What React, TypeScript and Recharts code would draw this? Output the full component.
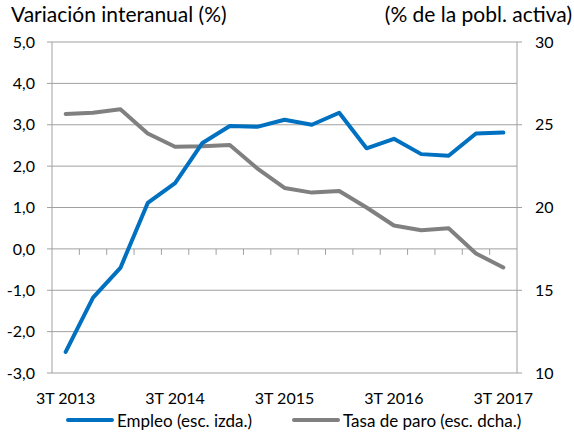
import React from 'react';
import { LineChart, Line, XAxis, YAxis, CartesianGrid, Legend } from 'recharts';

const quarters = ['3T 2013', '4T 2013', '1T 2014', '2T 2014', '3T 2014', '4T 2014', '1T 2015', '2T 2015', '3T 2015', '4T 2015', '1T 2016', '2T 2016', '3T 2016', '4T 2016', '1T 2017', '2T 2017', '3T 2017'];
const empleo = [-2.49, -1.18, -0.46, 1.11, 1.59, 2.56, 2.97, 2.95, 3.12, 3.0, 3.29, 2.43, 2.66, 2.29, 2.25, 2.79, 2.81];
const paro = [25.65, 25.73, 25.93, 24.47, 23.67, 23.7, 23.78, 22.37, 21.18, 20.9, 21.0, 20.0, 18.91, 18.63, 18.75, 17.22, 16.38];
const leftTicks = [-3, -2, -1, 0, 1, 2, 3, 4, 5];
const rightTicks = [10, 15, 20, 25, 30];
const shownLabels = ['3T 2013', '3T 2014', '3T 2015', '3T 2016', '3T 2017'];

const seriesNames = { empleo: 'Empleo (esc. izda.)', paro: 'Tasa de paro (esc. dcha.)' };
const titles = { left: 'Variación interanual (%)', right: '(% de la pobl. activa)' };
const BLUE = '#0070C0';
const GRAY = '#808080';
const GRID = '#a0a0a0';
const FONT = 'Lato, "Liberation Sans", sans-serif';

const data = quarters.map((q, i) => ({ q, empleo: empleo[i], paro: paro[i] }));

const W = 574;
const H = 432;
const LEFT_W = 52;
const RIGHT_W = 57;
const TOP = 42;
const XAXIS_H = 35;
const LEGEND_H = 24;
const PLOT_W = W - LEFT_W - RIGHT_W;
const PLOT_H = H - TOP - XAXIS_H - LEGEND_H;
const BAND = PLOT_W / quarters.length;
const L_MIN = -3;
const L_MAX = 5;

const fmtLeft = (v: number) => v.toFixed(1).replace('.', ',');

const XTick = (props: any) => {
  const { x, y, payload, index } = props;
  const zeroY = y - ((0 - L_MIN) / (L_MAX - L_MIN)) * PLOT_H;
  const bx = x - BAND / 2;
  return (
    <g>
      {index > 0 && <line x1={bx} x2={bx} y1={zeroY} y2={zeroY + 6} stroke={GRID} strokeWidth={1} />}
      {shownLabels.includes(payload.value) && (
        <text x={x} y={y + 31} textAnchor="middle" fill="#000" fontSize={16} fontFamily={FONT}>
          {payload.value}
        </text>
      )}
    </g>
  );
};

const LegendContent = () => (
  <div style={{ display: 'flex', alignItems: 'center', height: LEGEND_H, paddingLeft: 66, fontFamily: FONT, fontSize: 17, color: '#000', whiteSpace: 'nowrap' }}>
    <div style={{ display: 'flex', alignItems: 'center', width: 226 }}>
      <div style={{ width: 48, height: 4, background: BLUE, borderRadius: 2, marginRight: 3 }} />
      <span>{seriesNames.empleo}</span>
    </div>
    <div style={{ display: 'flex', alignItems: 'center' }}>
      <div style={{ width: 48, height: 4, background: GRAY, borderRadius: 2, marginRight: 3 }} />
      <span>{seriesNames.paro}</span>
    </div>
  </div>
);

export default function App() {
  return (
    <div style={{ position: 'absolute', left: 0, top: 0, width: W, height: H, background: '#fff' }}>
      <div style={{ position: 'absolute', left: 11, top: 1, fontFamily: FONT, fontSize: 21, color: '#000', whiteSpace: 'nowrap' }}>
        {titles.left}
      </div>
      <div style={{ position: 'absolute', right: 2, top: 1, fontFamily: FONT, fontSize: 21, color: '#000', whiteSpace: 'nowrap' }}>
        {titles.right}
      </div>
      <LineChart width={W} height={H} data={data} margin={{ top: TOP, right: 0, bottom: 0, left: 0 }}>
        <CartesianGrid yAxisId="left" vertical={false} horizontal={true} stroke={GRID} strokeWidth={1} />
        <XAxis
          dataKey="q"
          interval={0}
          height={XAXIS_H}
          padding={{ left: BAND / 2, right: BAND / 2 }}
          axisLine={false}
          tickLine={false}
          tickSize={0}
          tickMargin={0}
          tick={<XTick />}
        />
        <YAxis
          yAxisId="left"
          orientation="left"
          width={LEFT_W}
          domain={[L_MIN, L_MAX]}
          ticks={leftTicks}
          interval={0}
          tickFormatter={fmtLeft}
          axisLine={{ stroke: GRID }}
          tickLine={{ stroke: GRID }}
          tickSize={5}
          tickMargin={12}
          tick={{ fill: '#000', fontSize: 16, fontFamily: FONT }}
        />
        <YAxis
          yAxisId="right"
          orientation="right"
          width={RIGHT_W}
          domain={[10, 30]}
          ticks={rightTicks}
          interval={0}
          axisLine={{ stroke: GRID }}
          tickLine={{ stroke: GRID }}
          tickSize={5}
          tickMargin={13}
          tick={{ fill: '#000', fontSize: 16, fontFamily: FONT, textAnchor: 'start' }}
        />
        <Line yAxisId="right" dataKey="paro" name={seriesNames.paro} stroke={GRAY} strokeWidth={4} dot={false} activeDot={false} isAnimationActive={false} strokeLinejoin="round" strokeLinecap="round" />
        <Line yAxisId="left" dataKey="empleo" name={seriesNames.empleo} stroke={BLUE} strokeWidth={4} dot={false} activeDot={false} isAnimationActive={false} strokeLinejoin="round" strokeLinecap="round" />
        <Legend verticalAlign="bottom" height={LEGEND_H} content={<LegendContent />} wrapperStyle={{ left: 0, width: W }} />
      </LineChart>
    </div>
  );
}
